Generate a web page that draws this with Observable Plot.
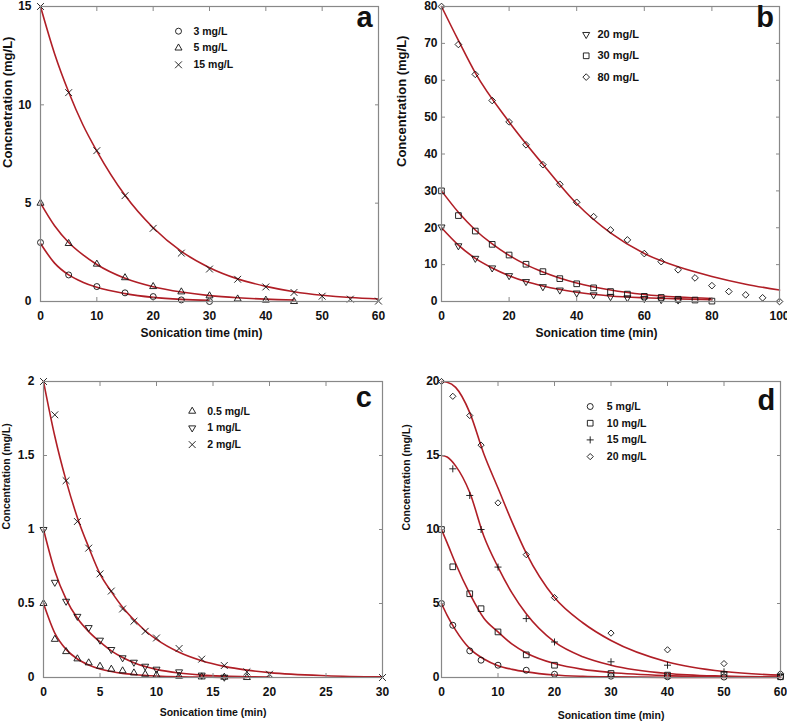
<!DOCTYPE html>
<html><head><meta charset="utf-8">
<script src="https://cdn.jsdelivr.net/npm/d3@7"></script>
<script src="https://cdn.jsdelivr.net/npm/@observablehq/plot@0.6"></script>
<style>
body{margin:0;background:#fff;}
#wrap{position:relative;width:787px;height:721px;overflow:hidden;font-family:"Liberation Sans",Arial,sans-serif;}
.panel{position:absolute;}
</style></head><body><div id="wrap"></div>
<script>
// ---------- Panel a ----------
const aT3 = [0,5,10,15,20,25,30];
const aC3 = [3.0,1.35,0.76,0.44,0.25,0.08,0.0];
const aT5 = [0,5,10,15,20,25,30,35,40,45];
const aC5 = [5.0,2.95,1.90,1.21,0.76,0.49,0.29,0.13,0.07,0.0];
const aT15 = [0,5,10,15,20,25,30,35,40,45,50,55,60];
const aC15 = [15.0,10.62,7.67,5.38,3.72,2.46,1.65,1.13,0.74,0.46,0.27,0.12,0.02];
const aFitT3 = [0,2.5,5,7.5,10,15,20,25,30];
const aFit3 = [2.95,1.95,1.35,0.98,0.72,0.40,0.21,0.11,0.06];
const aFitT5 = [0,2.5,5,7.5,10,15,20,25,30,35,40,45];
const aFit5 = [5.0,3.85,3.0,2.38,1.88,1.18,0.75,0.48,0.30,0.19,0.12,0.08];
const aFitT15 = [0,2.5,5,7.5,10,15,20,25,30,35,40,45,50,55,60];
const aFit15 = [15,12.6,10.65,9.0,7.65,5.4,3.75,2.55,1.72,1.15,0.77,0.50,0.32,0.20,0.13];
const aLegend = ["3 mg/L","5 mg/L","15 mg/L"];
const aXTicks = [0,10,20,30,40,50,60];
const aYTicks = [0,5,10,15];

// ---------- Panel b ----------
const bT20 = [0,5,10,15,20,25,30,35,40,45,50,55,60,65,70];
const bC20 = [20.2,15.1,11.7,9.1,7.0,5.4,4.0,3.1,2.3,1.8,1.3,1.0,0.8,0.5,0.4];
const bT30 = [0,5,10,15,20,25,30,35,40,45,50,55,60,65,70,75,80];
const bC30 = [30.0,23.3,19.1,15.5,12.6,10.1,8.1,6.2,4.8,3.7,2.7,2.0,1.4,1.1,0.6,0.4,0.1];
const bT80 = [0,5,10,15,20,25,30,35,40,45,50,55,60,65,70,75,80,85,90,95,100];
const bC80 = [80,69.7,61.6,54.5,48.7,42.5,37.1,31.8,26.9,23.0,19.4,16.7,13.0,10.8,8.6,6.4,4.3,2.7,1.8,1.0,0];
const bFitT = [0,5,10,15,20,25,30,40,50,60,70,80];
const bFit20 = [20,15.3,11.7,9.1,7.0,5.4,4.2,2.5,1.5,1.0,0.7,0.5];
const bFit30 = [30,24.2,19.4,15.6,12.5,10.0,8.0,5.0,3.1,1.9,1.2,0.8];
const bFitT80 = [0,5,10,20,30,40,50,60,70,80,90,100];
const bFit80 = [80,70.8,62,48.7,37.2,26.5,18.6,13.0,9.4,6.8,4.7,3.1];
const bLegend = ["20 mg/L","30 mg/L","80 mg/L"];
const bXTicks = [0,20,40,60,80,100];
const bYTicks = [0,10,20,30,40,50,60,70,80];

// ---------- Panel c ----------
const cT2 = [0,1,2,3,4,5,6,7,8,9,10,12,14,16,18,20,30];
const cC2 = [2.0,1.775,1.33,1.054,0.874,0.70,0.584,0.463,0.38,0.312,0.267,0.196,0.124,0.081,0.038,0.022,0.0];
const cT1 = [0,1,2,3,4,5,6,7,8,9,10,12,14,16];
const cC1 = [1.0,0.643,0.515,0.413,0.337,0.252,0.189,0.133,0.103,0.076,0.056,0.038,0.016,0.002];
const cT05 = [0,1,2,3,4,5,6,7,8,9,10,12,14,16,18];
const cC05 = [0.5,0.258,0.175,0.126,0.099,0.076,0.056,0.045,0.031,0.022,0.016,0.009,0.004,0.002,0.0];
const cFitT2 = [0,1,2,3,4,5,6,7,8,9,10,12,14,16,18,20,25,30];
const cFit2 = [2,1.63,1.33,1.08,0.88,0.70,0.58,0.475,0.39,0.316,0.257,0.17,0.113,0.075,0.05,0.033,0.012,0.004];
const cFitT1 = [0,1,2,3,4,5,6,7,8,10,12,14,16,18,20];
const cFit1 = [1,0.72,0.53,0.40,0.31,0.24,0.18,0.135,0.10,0.055,0.03,0.016,0.009,0.005,0.003];
const cFitT05 = [0,1,2,3,4,5,6,7,8,10,12,14,16,18];
const cFit05 = [0.5,0.30,0.19,0.125,0.085,0.058,0.04,0.028,0.02,0.01,0.005,0.003,0.001,0.0];
const cLegend = ["0.5 mg/L","1 mg/L","2 mg/L"];
const cXTicks = [0,5,10,15,20,25,30];
const cYTicks = [0,0.5,1,1.5,2];

// ---------- Panel d ----------
const dT = [0,2,5,7,10,15,20,30,40,50,60];
const dC5 = [5.0,3.53,1.80,1.17,0.83,0.49,0.22,0.09,0.05,0.03,0.05];
const dC10 = [10.0,7.48,5.66,4.65,3.08,1.53,0.83,0.27,0.16,0.20,0.05];
const dC15 = [15.0,14.1,12.3,10.0,7.46,3.98,2.40,1.06,0.83,0.38,0.20];
const dC20 = [20.0,19.0,17.7,15.7,11.8,8.3,5.4,3.0,1.87,0.94,0.27];
const dFitT = [0,1,2.5,5,7.5,10,12.5,15,20,25,30,40,50,60];
const dFit5 = [5,4.2,3.2,1.95,1.25,0.80,0.55,0.38,0.17,0.08,0.04,0.01,0.0,0.0];
const dFit10 = [10,9.1,7.7,5.66,4.0,3.08,2.25,1.66,0.94,0.55,0.34,0.13,0.05,0.02];
const dFit15 = [15,14.9,14.3,12.5,9.55,7.46,5.7,4.3,2.4,1.4,0.83,0.27,0.09,0.03];
const dFit20 = [20,19.95,19.6,17.9,15.1,12.8,10.5,8.4,5.4,3.7,2.5,1.05,0.40,0.16];
const dLegend = ["5 mg/L","10 mg/L","15 mg/L","20 mg/L"];
const dXTicks = [0,10,20,30,40,50,60];
const dYTicks = [0,5,10,15,20];

const RED = "#b01e26";
const GRAY = "#888888";
const INK = "#111";
const FONT = "'Liberation Sans', Arial, sans-serif";
const fmt = d => String(d);

const zip = (T, V) => T.map((t, i) => ({t, v: V[i]}));

function panel(p) {
  const ml = p.ml, mt = p.mt;
  const marks = [];
  for (const s of p.series) {
    marks.push(Plot.line(zip(s.fitT, s.fit), {x: "t", y: "v", stroke: RED, strokeWidth: 1.6, curve: "monotone-x"}));
  }
  for (const s of p.series) {
    marks.push(Plot.dot(zip(s.t, s.c), {x: "t", y: "v", symbol: s.symbol, rotate: s.rotate || 0, r: s.r || 3, stroke: INK, strokeWidth: 0.9, fill: "none"}));
  }
  marks.push(Plot.frame({stroke: GRAY, strokeWidth: 1.2}));
  marks.push(Plot.axisX(p.xTicks, {anchor: "bottom", tickSize: -4, tickPadding: 14, tickFormat: fmt, stroke: GRAY, fill: INK, fontSize: p.tickFont, fontWeight: "bold", label: null}));
  marks.push(Plot.axisX(p.xTicks, {anchor: "top", tickSize: -4, stroke: GRAY, fill: "none", label: null}));
  marks.push(Plot.axisY(p.yTicks, {anchor: "left", tickSize: -4, tickPadding: p.yPad, tickFormat: fmt, stroke: GRAY, fill: INK, fontSize: p.tickFont, fontWeight: "bold", label: null}));
  marks.push(Plot.axisY(p.yTicks, {anchor: "right", tickSize: -4, stroke: GRAY, fill: "none", label: null}));
  marks.push(Plot.text([p.xLabel], {text: d => d, frameAnchor: "bottom", dx: p.xLabelDx, dy: p.xLabelDy, fontSize: p.xLabelFont, fontWeight: "bold", fill: INK, lineAnchor: "middle"}));
  marks.push(Plot.text([p.yLabel], {text: d => d, frameAnchor: "left", rotate: -90, dx: p.yLabelX - ml, dy: p.yLabelDy, fontSize: p.yLabelFont, fontWeight: "bold", fill: INK, lineAnchor: "middle"}));
  marks.push(Plot.text([p.letter], {text: d => d, frameAnchor: "top-left", dx: p.letterX - ml, dy: p.letterY - mt, fontSize: 29, fontWeight: "bold", fill: INK, textAnchor: "middle", lineAnchor: "bottom"}));
  p.series.forEach((s, i) => {
    const y = p.legY + i * p.legStep - mt;
    marks.push(Plot.dot([s.name], {frameAnchor: "top-left", dx: p.legSymX - ml, dy: y, symbol: s.symbol, rotate: s.rotate || 0, r: s.r || 3, stroke: INK, strokeWidth: 0.9, fill: "none"}));
    marks.push(Plot.text([s.name], {text: d => d, frameAnchor: "top-left", dx: p.legTextX - ml, dy: y, textAnchor: "start", lineAnchor: "middle", fontSize: p.legFont, fontWeight: "bold", fill: INK}));
  });
  const svg = Plot.plot({
    width: p.width, height: p.height,
    marginLeft: ml, marginTop: mt, marginRight: p.mr, marginBottom: p.mb,
    style: {fontFamily: FONT, background: "transparent", overflow: "visible"},
    x: {domain: p.xDomain},
    y: {domain: p.yDomain},
    marks
  });
  const div = document.createElement("div");
  div.className = "panel";
  div.style.left = p.left + "px";
  div.style.top = p.top + "px";
  div.appendChild(svg);
  document.getElementById("wrap").appendChild(div);
}

const XL = "Sonication time (min)";

panel({
  left: 0, top: 0, width: 393, height: 360, ml: 40, mt: 6, mr: 15, mb: 59,
  xDomain: [0, 60], yDomain: [0, 15], xTicks: aXTicks, yTicks: aYTicks,
  tickFont: 12, yPad: 13,
  xLabel: XL, xLabelDx: -8, xLabelDy: 32, xLabelFont: 12,
  yLabel: "Concnetration (mg/L)", yLabelX: 7, yLabelDy: 14, yLabelFont: 13,
  letter: "a", letterX: 364, letterY: 26,
  legSymX: 178, legTextX: 193, legY: 30.7, legStep: 16.8, legFont: 10.5,
  series: [
    {name: aLegend[0], t: aT3, c: aC3, fitT: aFitT3, fit: aFit3, symbol: "circle", r: 3},
    {name: aLegend[1], t: aT5, c: aC5, fitT: aFitT5, fit: aFit5, symbol: "triangle", r: 2.6},
    {name: aLegend[2], t: aT15, c: aC15, fitT: aFitT15, fit: aFit15, symbol: "times", r: 3.2}
  ]
});

panel({
  left: 393, top: 0, width: 394, height: 360, ml: 48, mt: 6, mr: 8, mb: 59,
  xDomain: [0, 100], yDomain: [0, 80], xTicks: bXTicks, yTicks: bYTicks,
  tickFont: 12, yPad: 8,
  xLabel: XL, xLabelDx: -14, xLabelDy: 32, xLabelFont: 12,
  yLabel: "Concentration (mg/L)", yLabelX: 8, yLabelDy: 13, yLabelFont: 13,
  letter: "b", letterX: 371.7, letterY: 26.7,
  legSymX: 192.7, legTextX: 204, legY: 34, legStep: 21.3, legFont: 11,
  series: [
    {name: bLegend[0], t: bT20, c: bC20, fitT: bFitT, fit: bFit20, symbol: "triangle", rotate: 180, r: 2.6},
    {name: bLegend[1], t: bT30, c: bC30, fitT: bFitT, fit: bFit30, symbol: "square", r: 3.2},
    {name: bLegend[2], t: bT80, c: bC80, fitT: bFitT80, fit: bFit80, symbol: "diamond2", r: 3}
  ]
});

panel({
  left: 0, top: 360, width: 393, height: 361, ml: 43, mt: 21, mr: 11, mb: 44,
  xDomain: [0, 30], yDomain: [0, 2], xTicks: cXTicks, yTicks: cYTicks,
  tickFont: 12, yPad: 13,
  xLabel: XL, xLabelDx: 0, xLabelDy: 35, xLabelFont: 10.5,
  yLabel: "Concentration (mg/L)", yLabelX: 6, yLabelDy: 0, yLabelFont: 10.5,
  letter: "c", letterX: 363.3, letterY: 46,
  legSymX: 191.7, legTextX: 206.7, legY: 50.7, legStep: 16.7, legFont: 10.5,
  series: [
    {name: cLegend[0], t: cT05, c: cC05, fitT: cFitT05, fit: cFit05, symbol: "triangle", r: 2.6},
    {name: cLegend[1], t: cT1, c: cC1, fitT: cFitT1, fit: cFit1, symbol: "triangle", rotate: 180, r: 2.6},
    {name: cLegend[2], t: cT2, c: cC2, fitT: cFitT2, fit: cFit2, symbol: "times", r: 3.2}
  ]
});

panel({
  left: 393, top: 360, width: 394, height: 361, ml: 48, mt: 21, mr: 7, mb: 44,
  xDomain: [0, 60], yDomain: [0, 20], xTicks: dXTicks, yTicks: dYTicks,
  tickFont: 12, yPad: 6,
  xLabel: XL, xLabelDx: 0, xLabelDy: 38, xLabelFont: 10.5,
  yLabel: "Concentration (mg/L)", yLabelX: 13.3, yLabelDy: 1, yLabelFont: 10.5,
  letter: "d", letterX: 372.9, letterY: 49,
  legSymX: 196.7, legTextX: 213.3, legY: 46, legStep: 16.7, legFont: 10.5,
  series: [
    {name: dLegend[0], t: dT, c: dC5, fitT: dFitT, fit: dFit5, symbol: "circle", r: 3},
    {name: dLegend[1], t: dT, c: dC10, fitT: dFitT, fit: dFit10, symbol: "square", r: 3.2},
    {name: dLegend[2], t: dT, c: dC15, fitT: dFitT, fit: dFit15, symbol: "plus", r: 2.4},
    {name: dLegend[3], t: dT, c: dC20, fitT: dFitT, fit: dFit20, symbol: "diamond2", r: 2.8}
  ]
});
</script>
</body></html>
